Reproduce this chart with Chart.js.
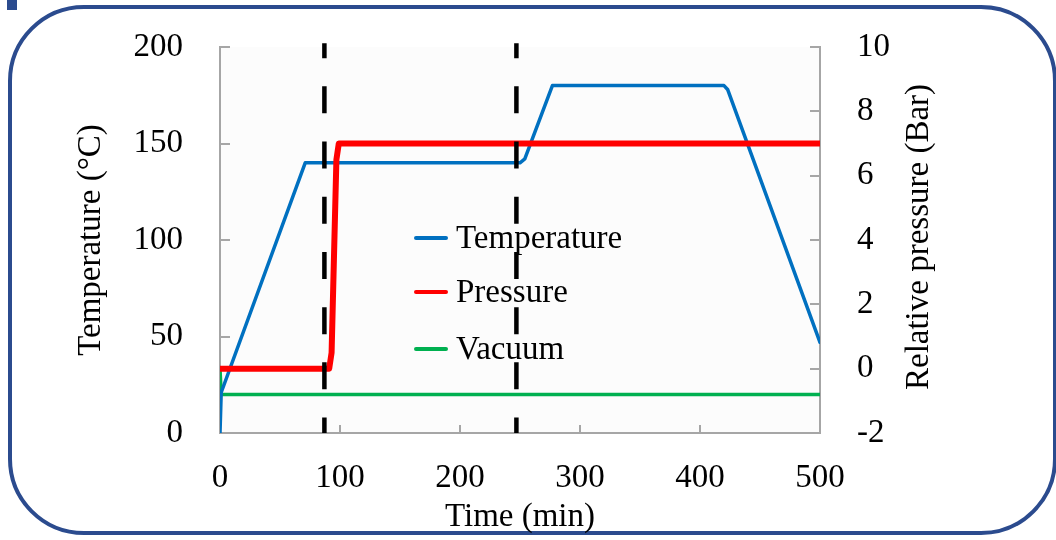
<!DOCTYPE html>
<html>
<head>
<meta charset="utf-8">
<script src="https://cdn.jsdelivr.net/npm/chart.js@4.4.1/dist/chart.umd.min.js"></script>
<style>
  html, body { margin: 0; padding: 0; background: #fff; }
  #wrap { position: relative; width: 1056px; height: 540px; overflow: hidden; }
  .frame { position: absolute; left: 8px; top: 5px; width: 1049px; height: 530px; box-sizing: border-box;
           border: 4px solid #2b4b8e; border-radius: 76px; }
  .tab { position: absolute; left: 7px; top: 0; width: 10px; height: 10px; background: #2b4b8e; }
  canvas { position: absolute; left: 0; top: 0; }
</style>
</head>
<body>
<div id="wrap">
  <div class="frame"></div>
  <div class="tab"></div>
  <canvas id="cureChart" width="1056" height="540"></canvas>
</div>
<script>
// cure cycle: time (min) against temperature, pressure and vacuum
const tempTime    = [0, 1, 71, 250, 254, 277, 420, 423, 500];
const tempValues  = [0, 21, 140, 140, 142, 180, 180, 178, 47];
const pressTime   = [0, 91, 93, 97, 99, 500];
const pressValues = [0, 0, 0.5, 6.5, 7, 7];
const vacTime     = [0, 1, 500];
const vacValues   = [0, -0.8, -0.8];
const stageMarks  = [87, 247];          // dashed stage boundaries (min)

const xTicks     = [0, 100, 200, 300, 400, 500];
const tempTicks  = [0, 50, 100, 150, 200];
const pressTicks = [-2, 0, 2, 4, 6, 8, 10];

const FONT = "'Liberation Serif', 'Times New Roman', serif";
const AXIS_GREY = '#a6a6a6';

const pairs = (xs, ys) => xs.map((x, i) => ({ x: x, y: ys[i] }));

// vertical dashed markers, drawn top to bottom so the dash phase starts at the top
const stageSets = stageMarks.map(t => ({
    label: '',
    data: [{ x: t, y: 202 }, { x: t, y: 0 }],
    yAxisID: 'yT',
    borderColor: '#000',
    borderWidth: 4.5,
    borderDash: [27, 28.2],
    borderDashOffset: 12,
    pointRadius: 0,
    clip: false,
    order: 0
}));

const series = [
    { label: 'Pressure', data: pairs(pressTime, pressValues), yAxisID: 'yP',
      borderColor: '#ff0000', borderWidth: 6, order: 1 },
    { label: 'Temperature', data: pairs(tempTime, tempValues), yAxisID: 'yT',
      borderColor: '#0070c0', borderWidth: 3.5, order: 2 },
    { label: 'Vacuum', data: pairs(vacTime, vacValues), yAxisID: 'yP',
      borderColor: '#00b050', borderWidth: 3.5, order: 3 }
].map(d => Object.assign({ pointRadius: 0, borderJoinStyle: 'round', borderCapStyle: 'round', tension: 0 }, d));

const legendOrder = ['Temperature', 'Pressure', 'Vacuum'];

// light plot background + small inward tick marks on the three axes
const plotDecor = {
    id: 'plotDecor',
    beforeDraw(chart) {
        const { ctx, chartArea: a } = chart;
        ctx.save();
        ctx.fillStyle = '#fcfcfc';
        ctx.fillRect(a.left, a.top, a.right - a.left, a.bottom - a.top);
        ctx.restore();
    },
    beforeDatasetsDraw(chart) {
        const { ctx, chartArea: a, scales } = chart;
        ctx.save();
        ctx.strokeStyle = AXIS_GREY;
        ctx.lineWidth = 2;
        ctx.beginPath();
        tempTicks.slice(1).forEach(v => {
            const y = Math.round(scales.yT.getPixelForValue(v));
            ctx.moveTo(a.left, y); ctx.lineTo(a.left + 10, y);
        });
        pressTicks.slice(1).forEach(v => {
            const y = Math.round(scales.yP.getPixelForValue(v));
            ctx.moveTo(a.right, y); ctx.lineTo(a.right - 10, y);
        });
        xTicks.slice(1, -1).forEach(v => {
            const x = Math.round(scales.x.getPixelForValue(v));
            ctx.moveTo(x, a.bottom); ctx.lineTo(x, a.bottom - 8);
        });
        ctx.stroke();
        ctx.restore();
    },
    afterDraw(chart) {
        const { ctx, chartArea: a } = chart;
        ctx.save();
        // right axis title reads bottom-to-top like the left one
        ctx.fillStyle = '#000';
        ctx.font = '33px ' + FONT;
        ctx.textAlign = 'center';
        ctx.textBaseline = 'middle';
        ctx.translate(919, (a.top + a.bottom) / 2 - 3);
        ctx.rotate(-Math.PI / 2);
        ctx.fillText('Relative pressure (Bar)', 0, 0);
        ctx.restore();

        // legend inside the plot
        ctx.save();
        ctx.font = '33px ' + FONT;
        ctx.textBaseline = 'middle';
        ctx.lineCap = 'round';
        const rows = [238, 292, 349];
        legendOrder.forEach((name, i) => {
            const ds = chart.data.datasets.find(d => d.label === name);
            ctx.strokeStyle = ds.borderColor;
            ctx.lineWidth = 4;
            ctx.beginPath();
            ctx.moveTo(416, rows[i]); ctx.lineTo(446, rows[i]);
            ctx.stroke();
            ctx.fillStyle = '#000';
            ctx.fillText(name, 456, rows[i] + 1);
        });
        ctx.restore();
    }
};

const tickFont = { family: FONT, size: 33 };

// fixed side widths; drop the label overflow padding so the plot top sits at the layout padding
const fitSide = w => s => { s.width = w; s.paddingTop = 0; s.paddingBottom = 0; };

new Chart(document.getElementById('cureChart'), {
    type: 'line',
    data: { datasets: stageSets.concat(series) },
    options: {
        responsive: false,
        animation: false,
        devicePixelRatio: 1,
        layout: { padding: { top: 47, left: 0, right: 0, bottom: 0 } },
        plugins: { legend: { display: false }, tooltip: { enabled: false } },
        scales: {
            x: {
                type: 'linear', min: 0, max: 500,
                afterBuildTicks: s => { s.ticks = xTicks.map(v => ({ value: v })); },
                afterFit: s => { s.height = 107; },
                grid: { display: false, drawTicks: false },
                border: { display: true, color: AXIS_GREY, width: 2 },
                ticks: { font: tickFont, color: '#000', padding: 26, maxRotation: 0 },
                title: { display: true, text: 'Time (min)', font: tickFont, color: '#000',
                         padding: { top: 0, bottom: 3 } }
            },
            yT: {
                type: 'linear', position: 'left', min: 0, max: 200,
                afterBuildTicks: s => { s.ticks = tempTicks.map(v => ({ value: v })); },
                afterFit: fitSide(220),
                grid: { display: false, drawTicks: false },
                border: { display: true, color: AXIS_GREY, width: 2 },
                ticks: { font: tickFont, color: '#000', padding: 37 },
                title: { display: true, text: 'Temperature (°C)', font: tickFont, color: '#000',
                         padding: { top: 72, bottom: 0 } }
            },
            yP: {
                type: 'linear', position: 'right', min: -2, max: 10,
                afterBuildTicks: s => { s.ticks = pressTicks.map(v => ({ value: v })); },
                afterFit: fitSide(236),
                grid: { display: false, drawTicks: false },
                border: { display: true, color: AXIS_GREY, width: 2 },
                ticks: { font: tickFont, color: '#000', padding: 37 }
            }
        }
    },
    plugins: [plotDecor]
});
</script>
</body>
</html>
